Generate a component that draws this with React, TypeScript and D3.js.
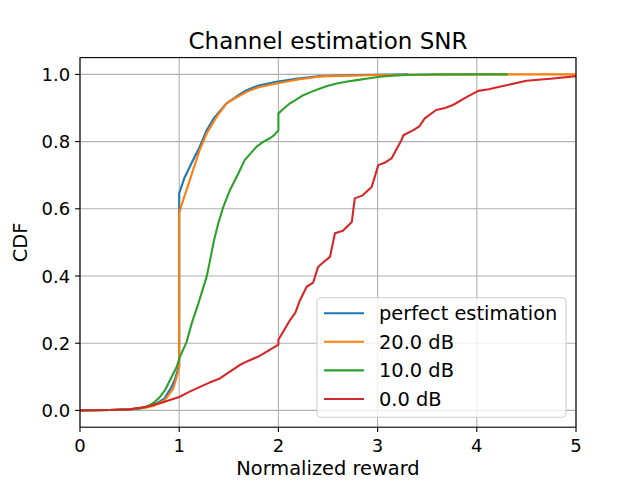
import React, { useEffect } from 'react';
import * as d3 from 'd3';

const perfectX = [0, 0.3, 0.5, 0.62, 0.7, 0.78, 0.85, 0.924, 0.96, 0.985, 1.0, 1.0, 1.05, 1.14, 1.2, 1.277, 1.35, 1.478, 1.58, 1.68, 1.8, 1.98, 2.2, 2.42, 2.8, 3.3];
const perfectY = [0, 0.001, 0.003, 0.007, 0.013, 0.022, 0.035, 0.07, 0.095, 0.12, 0.135, 0.646, 0.69, 0.745, 0.78, 0.834, 0.87, 0.914, 0.935, 0.953, 0.967, 0.978, 0.988, 0.995, 0.998, 1.0];

const snr20X = [0, 0.3, 0.5, 0.65, 0.75, 0.857, 0.94, 0.985, 1.0, 1.0, 1.04, 1.14, 1.2, 1.277, 1.38, 1.478, 1.58, 1.68, 1.8, 1.98, 2.2, 2.42, 3.0, 3.5, 4.0, 5.0];
const snr20Y = [0, 0.001, 0.003, 0.007, 0.014, 0.031, 0.065, 0.11, 0.13, 0.588, 0.626, 0.715, 0.77, 0.824, 0.875, 0.914, 0.932, 0.948, 0.962, 0.973, 0.985, 0.994, 0.998, 0.999, 1.0, 1.0];

const snr10X = [0, 0.3, 0.5, 0.6, 0.66, 0.706, 0.76, 0.806, 0.86, 0.907, 0.95, 0.975, 1.008, 1.075, 1.126, 1.193, 1.277, 1.31, 1.35, 1.394, 1.445, 1.512, 1.596, 1.66, 1.72, 1.78, 1.85, 1.915, 1.96, 2.0, 2.0, 2.06, 2.117, 2.18, 2.25, 2.33, 2.42, 2.5, 2.59, 2.68, 2.79, 2.9, 3.02, 3.15, 3.33, 3.6, 4.0, 4.3];
const snr10Y = [0, 0.001, 0.003, 0.006, 0.01, 0.016, 0.027, 0.04, 0.062, 0.09, 0.115, 0.13, 0.16, 0.204, 0.259, 0.318, 0.398, 0.445, 0.505, 0.557, 0.606, 0.656, 0.705, 0.745, 0.765, 0.785, 0.8, 0.81, 0.82, 0.834, 0.884, 0.9, 0.914, 0.925, 0.938, 0.948, 0.958, 0.966, 0.973, 0.978, 0.983, 0.988, 0.993, 0.996, 0.999, 1.0, 1.0, 1.0];

const snr0X = [0, 0.3, 0.5, 0.672, 0.806, 0.9, 1.0, 1.1, 1.21, 1.3, 1.41, 1.5, 1.61, 1.7, 1.81, 1.9, 2.0, 2.0, 2.06, 2.117, 2.17, 2.218, 2.285, 2.35, 2.4, 2.45, 2.52, 2.57, 2.65, 2.74, 2.77, 2.85, 2.94, 3.007, 3.07, 3.14, 3.24, 3.26, 3.36, 3.42, 3.475, 3.59, 3.68, 3.76, 3.9, 4.015, 4.12, 4.23, 4.5, 4.77, 5.0];
const snr0Y = [0, 0.001, 0.003, 0.011, 0.021, 0.03, 0.04, 0.055, 0.07, 0.082, 0.095, 0.113, 0.135, 0.148, 0.162, 0.178, 0.196, 0.21, 0.24, 0.269, 0.29, 0.328, 0.368, 0.38, 0.427, 0.44, 0.457, 0.527, 0.535, 0.561, 0.631, 0.64, 0.665, 0.73, 0.737, 0.75, 0.804, 0.819, 0.834, 0.845, 0.869, 0.894, 0.9, 0.909, 0.933, 0.951, 0.956, 0.963, 0.981, 0.988, 0.995];

const seriesNames = ['perfect estimation', '20.0 dB', '10.0 dB', '0.0 dB'];
const seriesColors = ['#1f77b4', '#ff7f0e', '#2ca02c', '#d62728'];
const xTicks = [0, 1, 2, 3, 4, 5];
const yTicks = [0, 0.2, 0.4, 0.6, 0.8, 1.0];

const width = 640;
const height = 480;
const margin = { left: 80, right: 64, top: 57.6, bottom: 52.8 };
const font = 'DejaVu Sans, sans-serif';

const App: React.FC = () => {
    useEffect(() => {
        document.body.style.margin = '0';
    }, []);

    const x = d3.scaleLinear().domain([0, 5]).range([margin.left, width - margin.right]);
    const y = d3.scaleLinear().domain([-0.05, 1.05]).range([height - margin.bottom, margin.top]);

    const series = [
        { xs: perfectX, ys: perfectY },
        { xs: snr20X, ys: snr20Y },
        { xs: snr10X, ys: snr10Y },
        { xs: snr0X, ys: snr0Y },
    ];

    const line = d3.line<[number, number]>()
        .x(d => x(d[0]))
        .y(d => y(d[1]));

    const [x0, x1] = x.range();
    const [yb, yt] = y.range();

    // legend, lower right
    const legW = 249;
    const legH = 119.5;
    const legX = x1 - 10 - legW;
    const legY = yb - 10 - legH;
    const rowH = 28.6;

    return (
        <svg width={width} height={height} style={{ display: 'block', fontFamily: font }}>
            <rect width={width} height={height} fill="white" />
            <g stroke="#b0b0b0" strokeWidth={1.1}>
                {xTicks.map(t => <line key={'gx' + t} x1={x(t)} x2={x(t)} y1={yt} y2={yb} />)}
                {yTicks.map(t => <line key={'gy' + t} x1={x0} x2={x1} y1={y(t)} y2={y(t)} />)}
            </g>
            <defs>
                <clipPath id="plot">
                    <rect x={x0} y={yt} width={x1 - x0} height={yb - yt} />
                </clipPath>
            </defs>
            <g clipPath="url(#plot)" fill="none" strokeWidth={2.1} strokeLinejoin="round" strokeLinecap="square">
                {series.map((s, i) => (
                    <path key={i} d={line(s.xs.map((v, j) => [v, s.ys[j]] as [number, number])) || ''} stroke={seriesColors[i]} />
                ))}
            </g>
            <rect x={x0} y={yt} width={x1 - x0} height={yb - yt} fill="none" stroke="black" strokeWidth={1.1} />
            <g stroke="black" strokeWidth={1.1}>
                {xTicks.map(t => <line key={'tx' + t} x1={x(t)} x2={x(t)} y1={yb} y2={yb + 4.9} />)}
                {yTicks.map(t => <line key={'ty' + t} x1={x0 - 4.9} x2={x0} y1={y(t)} y2={y(t)} />)}
            </g>
            <g fontSize={18} fill="black">
                {xTicks.map(t => (
                    <text key={'lx' + t} x={x(t)} y={452} textAnchor="middle">{t}</text>
                ))}
                {yTicks.map(t => (
                    <text key={'ly' + t} x={x0 - 9.8} y={y(t) + 6.5} textAnchor="end">{t.toFixed(1)}</text>
                ))}
            </g>
            <text x={(x0 + x1) / 2} y={49} textAnchor="middle" fontSize={23}>Channel estimation SNR</text>
            <text x={(x0 + x1) / 2} y={475} textAnchor="middle" fontSize={19.4}>Normalized reward</text>
            <text transform={`translate(26.5, ${(yt + yb) / 2}) rotate(-90)`} textAnchor="middle" fontSize={19.4}>CDF</text>
            <g>
                <rect x={legX} y={legY} width={legW} height={legH} rx={4} fill="white" fillOpacity={0.8} stroke="#cccccc" strokeWidth={1.1} />
                {seriesNames.map((name, i) => {
                    const ry = legY + 15.5 + i * rowH;
                    return (
                        <g key={name}>
                            <line x1={legX + 7} x2={legX + 47} y1={ry} y2={ry} stroke={seriesColors[i]} strokeWidth={2.1} />
                            <text x={legX + 62} y={ry + 7} fontSize={19.4}>{name}</text>
                        </g>
                    );
                })}
            </g>
        </svg>
    );
};

export default App;
